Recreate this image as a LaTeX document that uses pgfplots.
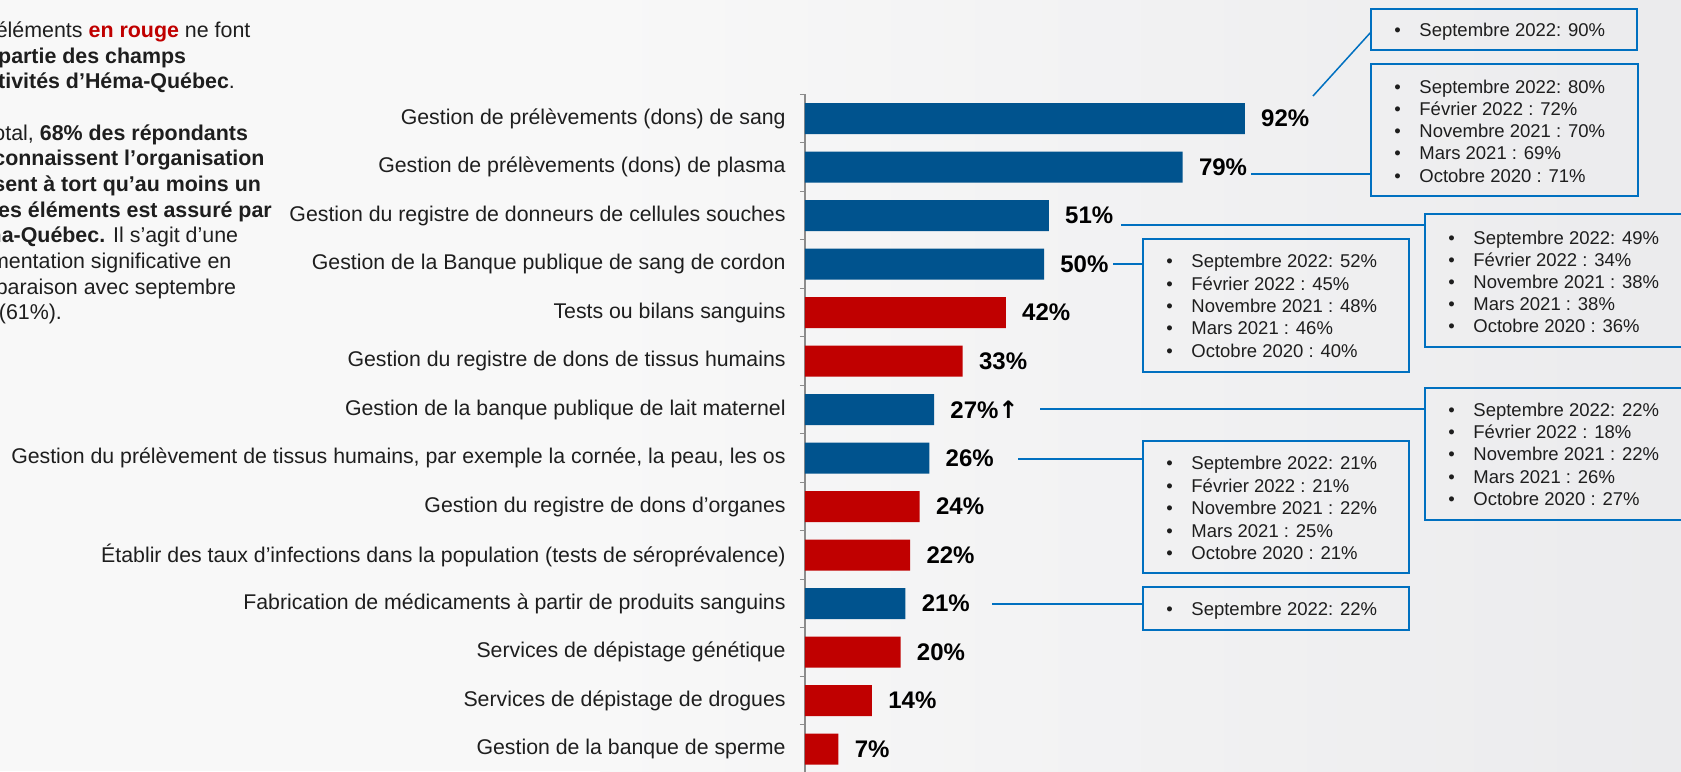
\documentclass[border=0pt]{standalone}
\usepackage{pgfplots}
\pgfplotsset{compat=1.18}
\usepackage{fontspec}
\setmainfont{Liberation Sans}
\newfontfamily\arrowfont{DejaVu Sans}

\definecolor{hqblue}{RGB}{0,83,142}
\definecolor{hqred}{RGB}{192,0,0}
\definecolor{boxblue}{RGB}{0,112,192}
\definecolor{txt}{RGB}{30,30,30}
\definecolor{bgl}{RGB}{248,248,248}
\definecolor{bgr}{RGB}{235,235,237}
\definecolor{axgray}{RGB}{140,140,140}

\newcommand{\sq}{\char"27\relax}
\newcommand{\boxfont}{\fontsize{9.25}{11}\selectfont}
% one bullet line in a comparison box: x of box left, y of line centre, text
\newcommand{\bitem}[3]{%
  \node[anchor=base west,inner sep=0pt,font=\boxfont,text=txt] at ({#1+23},{#2+6.5}) {•};
  \node[anchor=base west,inner sep=0pt,font=\boxfont,text=txt] at ({#1+48},{#2+6.5}) {#3};}

\begin{document}
\begin{tikzpicture}
\path[use as bounding box] (0pt,0pt) rectangle (840.5pt,-385.5pt);
\clip (0pt,0pt) rectangle (840.5pt,-385.5pt);

\begin{scope}[x=0.5pt,y=-0.5pt]
  \fill[bgl] (0,0) rectangle (1681,771);
  \shade[left color=bgl, right color=bgr] (600,0) rectangle (1681,771);
  % side note, cut at the left edge as in the slide
  \begin{scope}[every node/.style={anchor=base west,inner sep=0pt,text=txt,font=\fontsize{10.7}{12}\selectfont}]
    \node at (-45,37.3) {Les éléments \textbf{\textcolor{hqred}{en rouge}} ne font};
    \node at (-45,63) {\textbf{pas partie des champs}};
    \node at (-45,88.7) {\textbf{d’activités d’Héma-Québec}.};
    \node at (-45,140.1) {Au total, \textbf{68\% des répondants}};
    \node at (-45,165.8) {\textbf{qui connaissent l’organisation}};
    \node at (-45,191.5) {\textbf{pensent à tort qu’au moins un}};
    \node at (-45,217.2) {\textbf{de ces éléments est assuré par}};
    \node at (-45,242.9) {\textbf{Héma-Québec.} Il s’agit d’une};
    \node at (-45,268.6) {augmentation significative en};
    \node at (-45,294.3) {comparaison avec septembre};
    \node at (-55,319) {2022 (61\%).};
  \end{scope}
\end{scope}

\begin{axis}[
    at={(402.5pt,-47.125pt)}, anchor=north west,
    scale only axis, width=239pt, height=339.5pt,
    xbar, bar width=15.5pt, bar shift=0pt,
    xmin=0, xmax=100, ymin=-0.5, ymax=13.5, y dir=reverse,
    axis x line=none, axis y line*=left,
    axis line style={axgray, line width=0.8pt},
    ytick={0,...,13},
    yticklabels={
      Gestion de prélèvements (dons) de sang,
      Gestion de prélèvements (dons) de plasma,
      Gestion du registre de donneurs de cellules souches,
      Gestion de la Banque publique de sang de cordon,
      Tests ou bilans sanguins,
      Gestion du registre de dons de tissus humains,
      Gestion de la banque publique de lait maternel,
      {Gestion du prélèvement de tissus humains, par exemple la cornée, la peau, les os},
      Gestion du registre de dons d\sq organes,
      Établir des taux d\sq infections dans la population (tests de séroprévalence),
      Fabrication de médicaments à partir de produits sanguins,
      Services de dépistage génétique,
      Services de dépistage de drogues,
      Gestion de la banque de sperme},
    minor ytick={-0.5,0.5,1.5,2.5,3.5,4.5,5.5,6.5,7.5,8.5,9.5,10.5,11.5,12.5,13.5},
    major tick length=0pt, minor tick length=2.5pt, tick align=outside,
    tick style={axgray, line width=0.6pt},
    yticklabel style={font=\fontsize{10.65}{12}\selectfont, text=txt, inner sep=0pt, anchor=east, xshift=-9.5pt},
    point meta=explicit symbolic,
    nodes near coords,
    every node near coord/.append style={anchor=west, inner sep=0pt, xshift=8pt, text=black,
      font=\bfseries\fontsize{12}{14}\selectfont},
    clip=false,
]
\addplot[fill=hqblue, draw=none] coordinates {
  (92,0) [92\%]
  (79,1) [79\%]
  (51,2) [51\%]
  (50,3) [50\%]
  (27,6) [27\%{\arrowfont\bfseries ↑}]
  (26,7) [26\%]
  (21,10) [21\%]
};
\addplot[fill=hqred, draw=none] coordinates {
  (42,4) [42\%]
  (33,5) [33\%]
  (24,8) [24\%]
  (22,9) [22\%]
  (20,11) [20\%]
  (14,12) [14\%]
  (7,13) [7\%]
};
\end{axis}

\begin{scope}[x=0.5pt,y=-0.5pt]
  % connectors
  \begin{scope}[boxblue, line width=0.75pt]
    \draw (1313,96) -- (1371,32);
    \draw (1251,174) -- (1371,174);
    \draw (1121,225) -- (1425,225);
    \draw (1113,264) -- (1143,264);
    \draw (1040,409) -- (1425,409);
    \draw (1018,459) -- (1143,459);
    \draw (992,604) -- (1143,604);
  \end{scope}
  % boxes
  \begin{scope}[boxblue, line width=1.1pt]
    \draw (1371,9) rectangle (1637,50);
    \draw (1371,64) rectangle (1638,196);
    \draw (1425,214) rectangle (1720,347);
    \draw (1143,239) rectangle (1409,372);
    \draw (1425,388) rectangle (1720,520);
    \draw (1143,441) rectangle (1409,573);
    \draw (1143,587) rectangle (1409,630);
  \end{scope}
  \bitem{1371}{30}{Septembre 2022: 90\%}
  \bitem{1371}{86.7}{Septembre 2022: 80\%}
  \bitem{1371}{108.9}{Février 2022 : 72\%}
  \bitem{1371}{131.1}{Novembre 2021 : 70\%}
  \bitem{1371}{153.3}{Mars 2021 : 69\%}
  \bitem{1371}{175.5}{Octobre 2020 : 71\%}
  \bitem{1425}{237.5}{Septembre 2022: 49\%}
  \bitem{1425}{259.7}{Février 2022 : 34\%}
  \bitem{1425}{281.9}{Novembre 2021 : 38\%}
  \bitem{1425}{304.1}{Mars 2021 : 38\%}
  \bitem{1425}{326.3}{Octobre 2020 : 36\%}
  \bitem{1143}{261}{Septembre 2022: 52\%}
  \bitem{1143}{283.5}{Février 2022 : 45\%}
  \bitem{1143}{306}{Novembre 2021 : 48\%}
  \bitem{1143}{328}{Mars 2021 : 46\%}
  \bitem{1143}{350.5}{Octobre 2020 : 40\%}
  \bitem{1425}{410}{Septembre 2022: 22\%}
  \bitem{1425}{432}{Février 2022 : 18\%}
  \bitem{1425}{454}{Novembre 2021 : 22\%}
  \bitem{1425}{476.5}{Mars 2021 : 26\%}
  \bitem{1425}{499}{Octobre 2020 : 27\%}
  \bitem{1143}{463}{Septembre 2022: 21\%}
  \bitem{1143}{485.5}{Février 2022 : 21\%}
  \bitem{1143}{508}{Novembre 2021 : 22\%}
  \bitem{1143}{530.5}{Mars 2021 : 25\%}
  \bitem{1143}{552.7}{Octobre 2020 : 21\%}
  \bitem{1143}{609}{Septembre 2022: 22\%}
\end{scope}
\end{tikzpicture}
\end{document}
